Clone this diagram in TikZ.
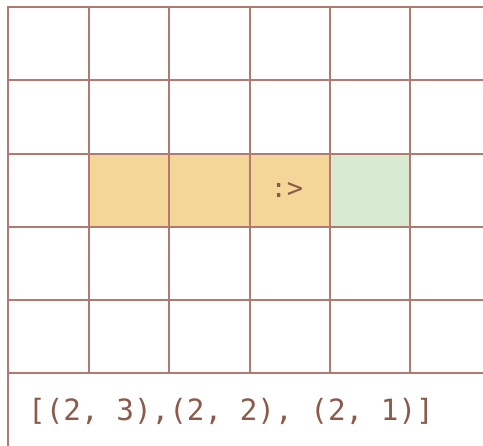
\documentclass[tikz,border=0pt]{standalone}
\usepackage{fontspec}
\newfontfamily\gridmono{DejaVu Sans Mono}
\definecolor{gridline}{HTML}{B07A70}
\definecolor{gridtext}{HTML}{8B5A4A}
\definecolor{cellorange}{HTML}{F5D699}
\definecolor{cellgreen}{HTML}{D9EAD3}
\begin{document}
\begin{tikzpicture}[x=1pt,y=-1pt,
  gridstroke/.style={draw=gridline,line width=2pt},
  orangecell/.style={fill=cellorange},
  greencell/.style={fill=cellgreen},
  celltext/.style={text=gridtext,font=\gridmono\fontsize{27}{30}\selectfont,inner sep=0pt},
  listtext/.style={text=gridtext,font=\gridmono\fontsize{29.3}{32}\selectfont,inner sep=0pt,anchor=base west}]
\useasboundingbox (0,0) rectangle (483,446);
% filled cells
\fill[orangecell] (89,154) rectangle (330,227);
\fill[greencell] (330,154) rectangle (410,227);
% horizontal lines
\foreach \y in {7,80,154,227,300,373} {
  \draw[gridstroke] (8,\y) -- (484,\y);
}
% vertical lines
\draw[gridstroke] (8,6) -- (8,447);
\foreach \x in {89,169,250,330,410} {
  \draw[gridstroke] (\x,7) -- (\x,373);
}
\node[celltext] (smile) at (287,190) {:>};
\node[listtext] (path) at (28,421) {[(2, 3),(2, 2), (2, 1)]};
\end{tikzpicture}
\end{document}
